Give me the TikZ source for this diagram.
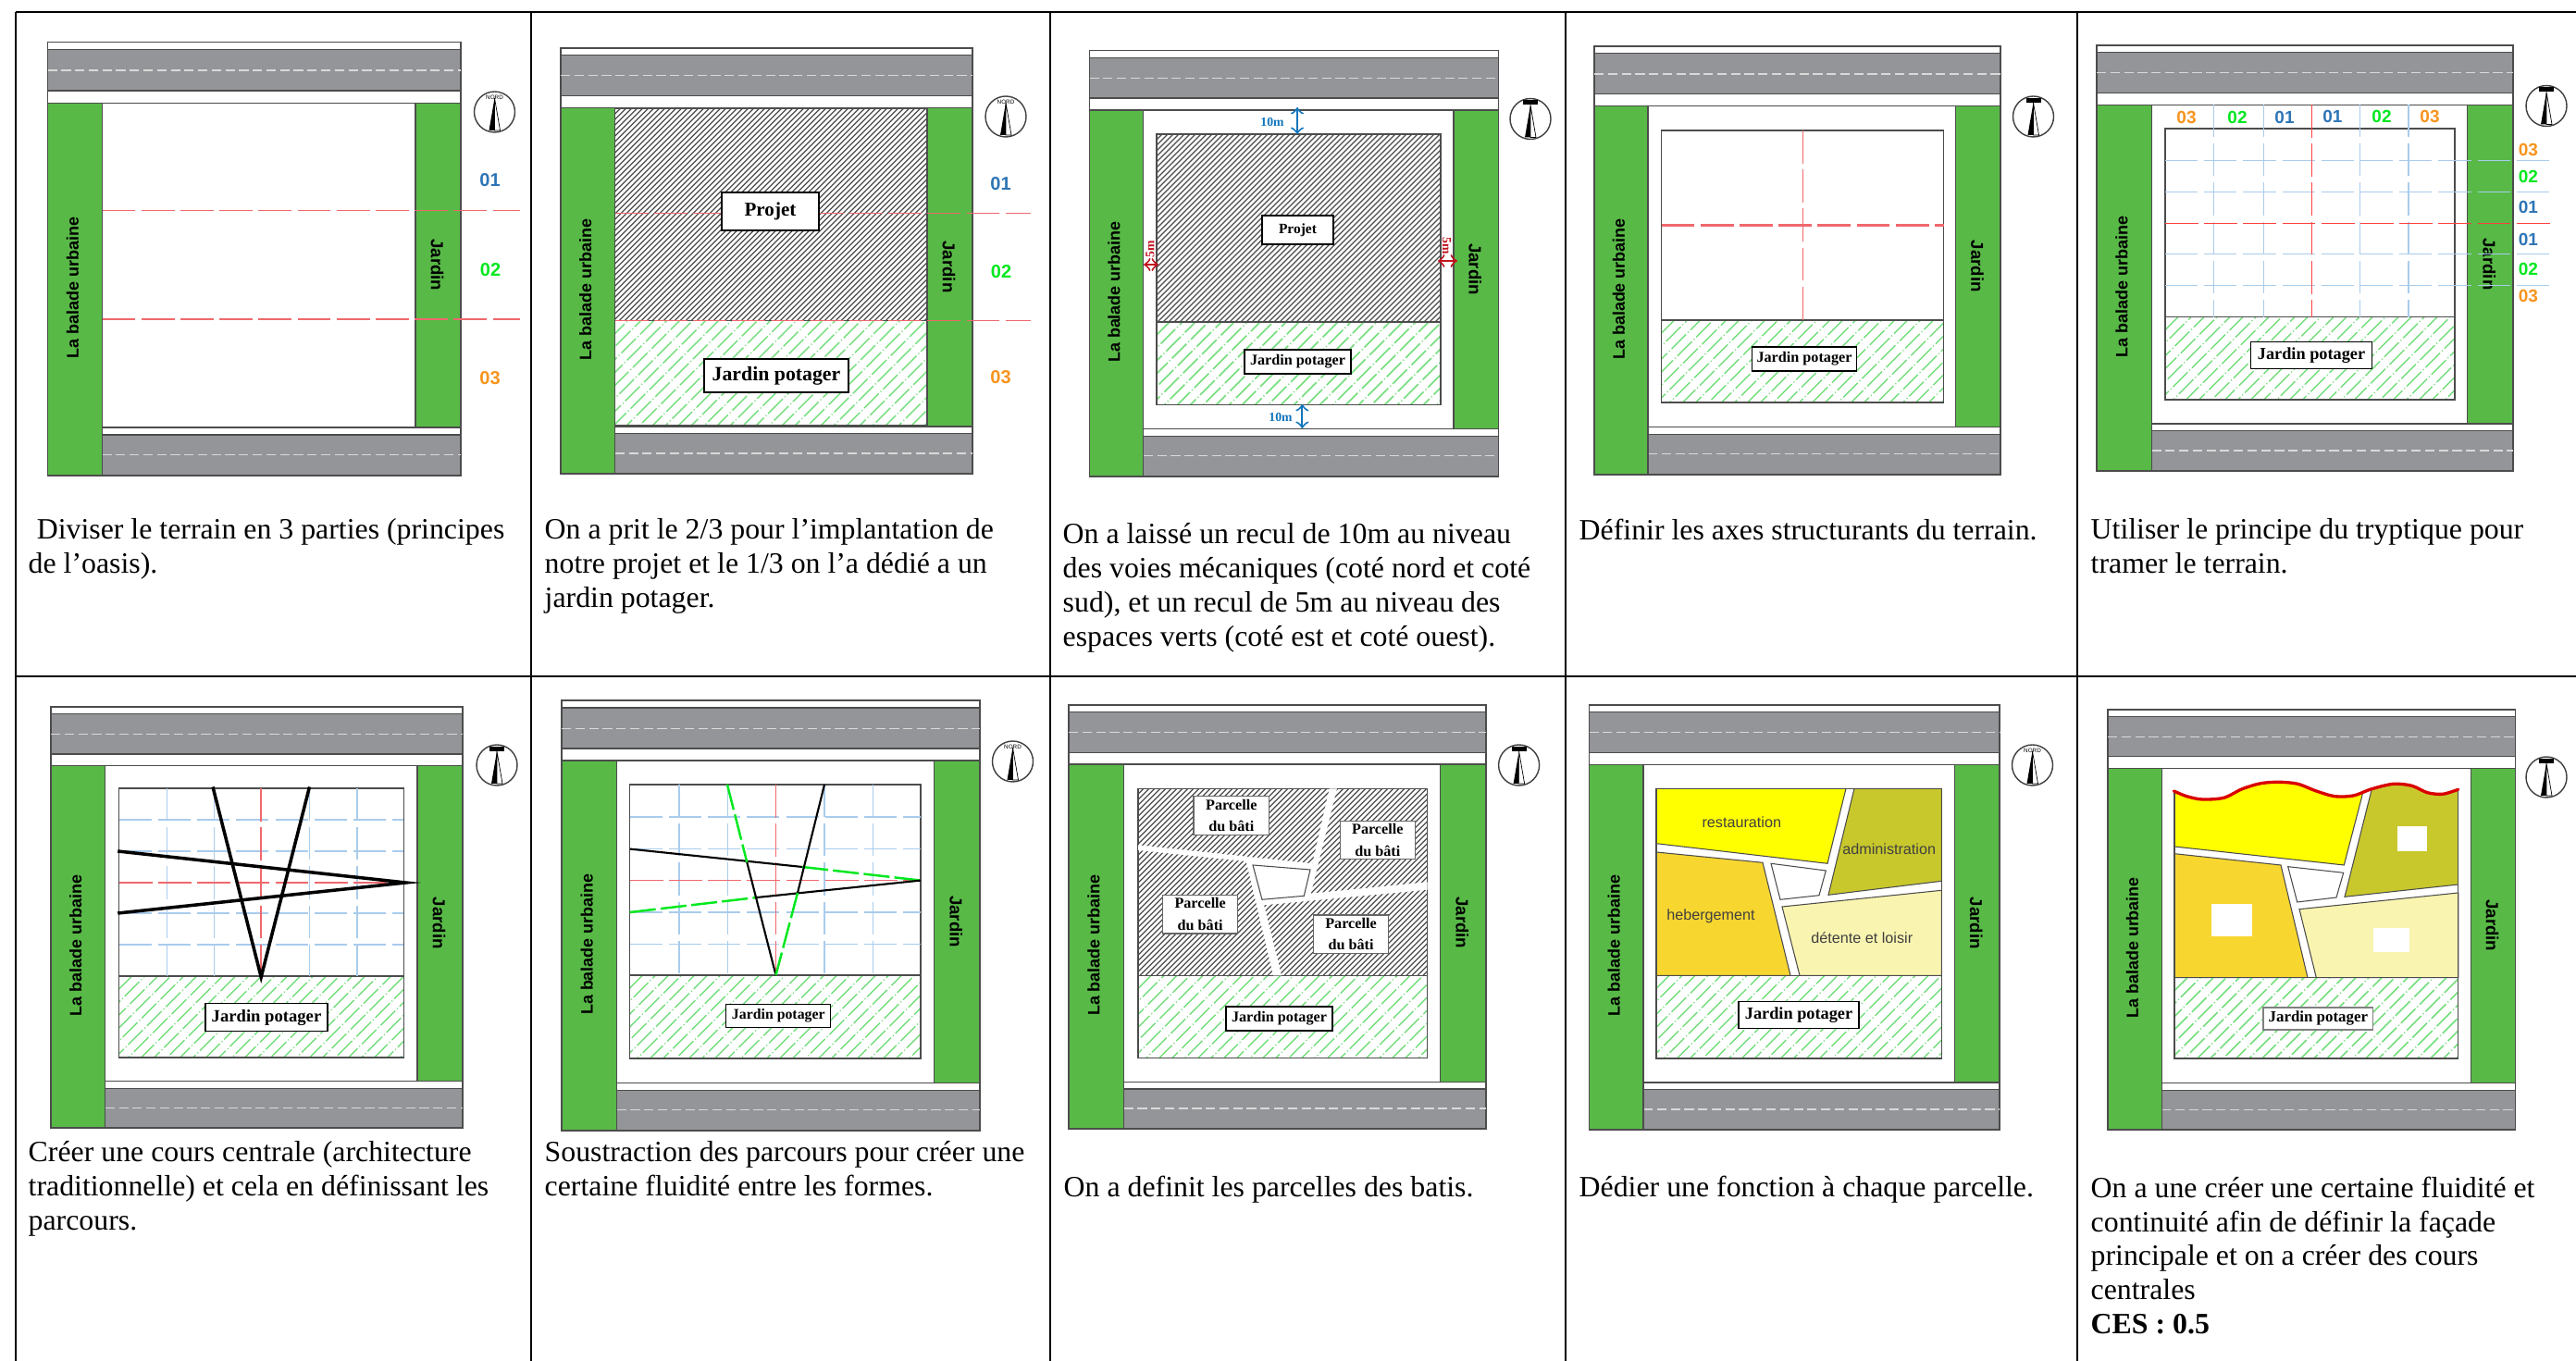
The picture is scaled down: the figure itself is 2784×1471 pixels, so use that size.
\documentclass[tikz,border=0pt]{standalone}
\usepackage{fontspec}
\setmainfont{Liberation Serif}
\newfontfamily\arialfont{Liberation Sans}
\newcommand{\fs}[1]{\fontsize{#1}{#1}\selectfont}
\definecolor{roadgrey}{HTML}{939598}
\definecolor{parkgreen}{HTML}{58B947}
\definecolor{axisred}{HTML}{F0686C}
\definecolor{trameblue}{HTML}{A9CCEC}
\definecolor{hatchgreen}{HTML}{74DE7C}
\definecolor{numblue}{HTML}{2E75B6}
\definecolor{numgreen}{HTML}{00E81F}
\definecolor{numorange}{HTML}{F7941D}
\definecolor{restocolor}{HTML}{FFFF00}
\definecolor{admincolor}{HTML}{C8C82C}
\definecolor{hebercolor}{HTML}{F8D630}
\definecolor{detentecolor}{HTML}{F9F4B0}
\definecolor{recublue}{HTML}{0F75BC}
\definecolor{recured}{HTML}{C1121F}
\tikzset{
  gridline/.style={black,line width=.7pt},
  planline/.style={draw=black!70,line width=.35pt},
  roadmark/.style={white!85!black,line width=.35pt,dash pattern=on 2.9pt off 1.3pt},
  axisline/.style={axisred,line width=.4pt,dash pattern=on 10.2pt off 1.8pt},
  axisbold/.style={axisline,line width=.6pt},
  tramebleu/.style={trameblue,line width=.4pt,dash pattern=on 10pt off 2pt},
  parcours/.style={black,line width=1pt},
  parcoursfin/.style={black,line width=.6pt},
  soustrait/.style={numgreen,line width=.7pt,dash pattern=on 8pt off 1.5pt},
  parcelline/.style={draw=black!70,line width=.3pt},
  baladetext/.style={font=\arialfont\bfseries\fs{5.1},rotate=90,inner sep=0pt},
  jardintext/.style={font=\arialfont\bfseries\fs{5.3},rotate=-90,inner sep=0pt},
  num/.style={font=\arialfont\bfseries\fs{#1},inner sep=0pt},
  namebox/.style={draw=black,fill=white,line width=.35pt,inner sep=0pt,align=center,font=\bfseries\fs{#1}},
  fonction/.style={font=\arialfont\fs{4.6},text=black!75,inner sep=0pt},
  recultext/.style={font=\bfseries\fs{3.9},inner sep=0pt},
  caption/.style={anchor=north west,inner sep=0pt,align=left,font=\fontsize{9.05}{10.5}\selectfont}
}
% road bands, park strips and their names
\newcommand{\planbase}[5]{
  \begin{scope}[shift={(#2,#3)},xscale=#4/100,yscale=#5/100]
    \filldraw[planline,fill=white] (0,0) rectangle (100,14);
    \filldraw[planline,fill=roadgrey] (0,1.7) rectangle (100,11.2);
    \draw[roadmark] (0,6.5) -- (100,6.5);
    \filldraw[planline,fill=white] (13.2,88.9) rectangle (100,90.6);
    \filldraw[planline,fill=roadgrey] (13.2,90.6) rectangle (100,100);
    \draw[roadmark] (13.2,95.2) -- (100,95.2);
    \filldraw[planline,fill=parkgreen] (0,14) rectangle (13.2,100);
    \filldraw[planline,fill=parkgreen] (89,14) rectangle (100,88.9);
    \node[baladetext] (balade#1) at (6,56.7) {La balade urbaine};
    \node[jardintext] (jardin#1) at (94.3,51.4) {Jardin};
  \end{scope}
}
\newcommand{\hatchlines}[6]{
  \begin{scope}
    \clip (#2,#3) rectangle (#4,#5);
    \pgfmathtruncatemacro{\hatchcount}{(#4-#2+#5-#3)/#6}
    \foreach \k in {0,...,\hatchcount} {
      \pgfmathsetmacro{\hatchphase}{mod(\k*3.1,8)}
      \draw[#1,dash phase=\hatchphase pt] ({#2-(#5-#3)+\k*#6},#5) -- ++({#5-#3},{-(#5-#3)});
    }
  \end{scope}
}
\newcommand{\projethatch}[4]{
  \hatchlines{black!70,line width=.36pt}{#1}{#2}{#3}{#4}{6}
  \draw[planline] (#1,#2) rectangle (#3,#4);
}
\newcommand{\potagerhatch}[4]{
  \hatchlines{hatchgreen,line width=.42pt,dash pattern=on 6.3pt off .8pt on .3pt off .8pt}{#1}{#2}{#3}{#4}{14}
  \draw[planline] (#1,#2) rectangle (#3,#4);
}
\newcommand{\compass}[2]{
  \begin{scope}[shift={(#1,#2)}]
    \filldraw[draw=black!75,fill=white,line width=.4pt] (0,0) circle[radius=22];
    \fill[black] (0,-15) -- (-6,20) -- (0,20) -- cycle;
    \filldraw[draw=black,fill=white,line width=.2pt] (0,-15) -- (6,20) -- (0,20) -- cycle;
  \end{scope}
}
\newcommand{\compassbar}[2]{
  \compass{#1}{#2}
  \fill[black] ({#1-8},{#2-20}) rectangle ({#1+8},{#2-15});
}
\newcommand{\compassnord}[3]{
  \compass{#2}{#3}
  \node[font=\arialfont\fs{1.8},inner sep=0pt] (nord#1) at (#2,{#3-16}) {NORD};
}
\begin{document}
\begin{tikzpicture}[x=.01cm,y=-.01cm]
  \useasboundingbox (0,0) rectangle (2784,1471);
  \fill[white] (0,0) rectangle (2784,1471);
  % table
  \draw[gridline] (17,13) -- (2784,13);
  \draw[gridline] (17,731) -- (2784,731);
  \foreach \x in {17,574,1135,1692,2245} {
    \draw[gridline] (\x,13) -- (\x,1471);
  }

  % diviser
  \planbase{a}{51.6}{45.6}{446.4}{468.4}
  \compassnord{a}{534.5}{121}
  \draw[axisline] (110.5,227.6) -- (562,227.6);
  \draw[axisline] (110.5,345) -- (562,345);
  \draw (529.5,194.6) node[num=5.7,numblue] (numaa) {01};
  \draw (530,292) node[num=5.7,numgreen] (numab) {02};
  \draw (529.5,409) node[num=5.7,numorange] (numac) {03};
  \node[caption] (texta) at (30,560) {\hspace*{2.6pt}Diviser le terrain en 3 parties (principes\\de l’oasis).};

  % implantation
  \planbase{b}{606}{52}{445}{460}
  \compassnord{b}{1087}{126}
  \projethatch{664.7}{117}{1001.5}{346.4}
  \potagerhatch{664.7}{346.4}{1001.5}{460}
  \draw[axisline] (664.7,230.5) -- (1114,230.5);
  \draw[axisline] (664.7,346.4) -- (1114,346.4);
  \node[namebox=6,minimum width=1.05cm,minimum height=.41cm] (projetb) at (832.5,228.5) {Projet};
  \node[namebox=6.2,minimum width=1.56cm,minimum height=.36cm] (potagerb) at (839,406) {Jardin potager};
  \draw (1081.5,199) node[num=5.7,numblue] (numba) {01};
  \draw (1082,294) node[num=5.7,numgreen] (numbb) {02};
  \draw (1081.5,408) node[num=5.7,numorange] (numbc) {03};
  \node[caption] (textb) at (588,560) {On a prit le 2/3 pour l’implantation de\\notre projet et le 1/3 on l’a dédié a un\\jardin potager.};

  % recul
  \planbase{c}{1177.5}{54.5}{442}{460.5}
  \compassbar{1654}{128.5}
  \projethatch{1250}{145}{1557}{348}
  \potagerhatch{1250}{348}{1557}{437.6}
  \node[namebox=4.4,minimum width=.77cm,minimum height=.31cm] (projetc) at (1402.5,248.5) {Projet};
  \node[namebox=4.6,minimum width=1.15cm,minimum height=.26cm] (potagerc) at (1402.5,391) {Jardin potager};
  \draw[<->,recublue,line width=.55pt] (1402,116) -- (1402,145);
  \draw[<->,recublue,line width=.55pt] (1407.4,437) -- (1407.4,463);
  \draw[<->,recured,line width=.55pt] (1236,286) -- (1252,286);
  \draw[<->,recured,line width=.55pt] (1554,282) -- (1575,282);
  \node[recultext,recublue] (recultop) at (1375,132) {10m};
  \node[recultext,recublue] (reculbot) at (1384,451) {10m};
  \node[recultext,recured,rotate=90] (reculleft) at (1243,269) {5m};
  \node[recultext,recured,rotate=-90] (reculright) at (1563.5,266) {5m};
  \node[caption] (textc) at (1148,565) {On a laissé un recul de 10m au niveau\\des voies mécaniques (coté nord et coté\\sud), et un recul de 5m au niveau des\\espaces verts (coté est et coté ouest).};

  % axes
  \planbase{d}{1723}{50}{439}{463}
  \compassbar{2197.5}{126}
  \draw[planline] (1795.6,141) rectangle (2100.5,346);
  \potagerhatch{1795.6}{346}{2100.5}{435}
  \draw[axisbold] (1795.6,243.5) -- (2100.5,243.5);
  \draw[axisline] (1948.6,141) -- (1948.6,346);
  \node[namebox=4.6,minimum width=1.13cm,minimum height=.26cm] (potagerd) at (1950,388) {Jardin potager};
  \node[caption] (textd) at (1706,560) {Définir les axes structurants du terrain.};

  % tryptique
  \planbase{e}{2266}{49}{450}{460}
  \compassbar{2752}{114.5}
  \draw[planline] (2340,139) rectangle (2653,342.6);
  \potagerhatch{2340}{342.6}{2653}{432}
  \foreach \x in {2392.4,2446.3,2550.5,2603} {
    \draw[tramebleu] (\x,113) -- (\x,342.6);
  }
  \foreach \y in {173.3,207.3,274.3,308.7} {
    \draw[tramebleu] (2340,\y) -- (2761,\y);
  }
  \draw[axisline,red!75] (2498.4,113) -- (2498.4,342.6);
  \draw[axisline,red!75] (2340,241.3) -- (2761,241.3);
  \node[namebox=5.2,minimum width=1.31cm,minimum height=.295cm] (potagere) at (2498,384) {Jardin potager};
  \draw (2363,126.7) node[num=5.4,numorange] (numea) {03};
  \draw (2418,126.7) node[num=5.4,numgreen] (numeb) {02};
  \draw (2469,126.7) node[num=5.4,numblue] (numec) {01};
  \draw (2520.8,125.7) node[num=5.4,numblue] (numed) {01};
  \draw (2574,125.7) node[num=5.4,numgreen] (numee) {02};
  \draw (2626,125.7) node[num=5.4,numorange] (numef) {03};
  \draw (2732.3,162) node[num=5.4,numorange] (numeg) {03};
  \draw (2732.3,191) node[num=5.4,numgreen] (numeh) {02};
  \draw (2732.3,224) node[num=5.4,numblue] (numei) {01};
  \draw (2732.3,259) node[num=5.4,numblue] (numej) {01};
  \draw (2732.3,291) node[num=5.4,numgreen] (numek) {02};
  \draw (2732.3,320) node[num=5.4,numorange] (numel) {03};
  \node[caption] (texte) at (2259,560) {Utiliser le principe du tryptique pour\\tramer le terrain.};

  % cours centrale
  \planbase{f}{55}{764}{445}{455}
  \compassbar{537}{827}
  \draw[planline] (128.7,852) rectangle (436.4,1055);
  \potagerhatch{128.7}{1055}{436.4}{1143}
  \foreach \x in {180.4,231.3,334.5,386} {
    \draw[tramebleu] (\x,852) -- (\x,1055);
  }
  \foreach \y in {886,920,987,1021} {
    \draw[tramebleu] (128.7,\y) -- (436.4,\y);
  }
  \draw[axisline] (282.2,852) -- (282.2,1055);
  \draw[axisline] (128.7,954) -- (436.4,954);
  \draw[parcours] (230,850.5) -- (282.2,1056) -- (334.5,850.5);
  \draw[parcours] (127.3,920) -- (438.5,954) -- (127.3,987);
  \node[namebox=5.3,minimum width=1.32cm,minimum height=.30cm] (potagerf) at (288,1099.6) {Jardin potager};
  \node[caption] (textf) at (30,1232.5) {Créer une cours centrale (architecture\\traditionnelle) et cela en définissant les\\parcours.};

  % soustraction
  \planbase{g}{607}{757}{452}{465}
  \compassnord{g}{1094.5}{823}
  \draw[planline] (680.7,848) rectangle (995,1054);
  \potagerhatch{680.7}{1054}{995}{1144}
  \foreach \x in {733.8,786.2,891,943.3} {
    \draw[tramebleu] (\x,848) -- (\x,1054);
  }
  \foreach \y in {883,917.6,986,1020.6} {
    \draw[tramebleu] (680.7,\y) -- (995,\y);
  }
  \draw[axisline] (838.5,848) -- (838.5,1054);
  \draw[axisline] (680.7,951.6) -- (995,951.6);
  \draw[parcoursfin] (680.7,917.6) -- (867,937);
  \draw[soustrait] (867,937) -- (995,951.6);
  \draw[soustrait] (680.7,986) -- (818,970);
  \draw[parcoursfin] (818,970) -- (995,951.6);
  \draw[soustrait] (786,848) -- (807.3,932);
  \draw[parcoursfin] (807.3,932) -- (838.5,1054);
  \draw[parcoursfin] (891,848) -- (862,965);
  \draw[soustrait] (862,965) -- (838.5,1054);
  \node[namebox=4.5,minimum width=1.13cm,minimum height=.25cm] (potagerg) at (841.3,1098) {Jardin potager};
  \node[caption] (textg) at (588,1232.5) {Soustraction des parcours pour créer une\\certaine fluidité entre les formes.};

  % parcelles
  \planbase{h}{1155}{762}{451}{458}
  \compassbar{1641.6}{827}
  \projethatch{1230}{852.3}{1542.7}{1054.3}
  \potagerhatch{1230}{1054.3}{1542.7}{1143.5}
  \fill[white] (1230,913.3) -- (1418.3,933.3) -- (1436.7,852.3) -- (1445,852.3) -- (1416.7,965.7) -- (1542.7,953.3) -- (1542.7,961.7) -- (1366,978.3) -- (1385,1054.3) -- (1376,1054.3) -- (1346.7,931) -- (1230,919) -- cycle;
  \draw[parcelline] (1354,935) -- (1416,940) -- (1409.3,968.3) -- (1364,972.3) -- cycle;
  \node[namebox=4.6,minimum width=.815cm,minimum height=.415cm,draw=black!60] (parcellea) at (1330.8,881.5) {Parcelle\\[2.1pt]du bâti};
  \node[namebox=4.6,minimum width=.81cm,minimum height=.41cm,draw=black!60] (parcelleb) at (1488.8,907.8) {Parcelle\\[2.1pt]du bâti};
  \node[namebox=4.6,minimum width=.81cm,minimum height=.417cm,draw=black!60] (parcellec) at (1297.2,988.2) {Parcelle\\[2.1pt]du bâti};
  \node[namebox=4.6,minimum width=.814cm,minimum height=.413cm,draw=black!60] (parcelled) at (1460,1009.7) {Parcelle\\[2.1pt]du bâti};
  \node[namebox=4.6,minimum width=1.15cm,minimum height=.26cm] (potagerh) at (1382.5,1101) {Jardin potager};
  \node[caption] (texth) at (1149,1270) {On a definit les parcelles des batis.};

  % fonctions
  \planbase{i}{1717.5}{762}{443.5}{459}
  \compassnord{i}{2196.5}{827}
  \filldraw[parcelline,fill=restocolor] (1790,852.3) -- (1995,852.3) -- (1975,933.3) -- (1790,911.7) -- cycle;
  \filldraw[parcelline,fill=admincolor] (2004,852.3) -- (2098.3,852.3) -- (2098.3,952.3) -- (1976,967.3) -- cycle;
  \filldraw[parcelline,fill=hebercolor] (1790,921) -- (1905,932.3) -- (1935,1054.3) -- (1790,1054.3) -- cycle;
  \filldraw[parcelline,fill=detentecolor] (1926,980) -- (2098.3,962.3) -- (2098.3,1054.3) -- (1945,1054.3) -- cycle;
  \draw[parcelline] (1914,933.3) -- (1973.3,941) -- (1966,967.7) -- (1924,972.3) -- cycle;
  \draw[planline] (1790,852.3) rectangle (2098.3,1054.3);
  \potagerhatch{1790}{1054.3}{2098.3}{1144}
  \node[fonction] (restauration) at (1882.3,888.3) {restauration};
  \node[fonction] (administration) at (2041.7,917.3) {administration};
  \node[fonction] (hebergement) at (1849,990.7) {hebergement};
  \node[fonction] (detente) at (2012.3,1013.3) {détente et loisir};
  \node[namebox=5.2,minimum width=1.30cm,minimum height=.29cm] (potageri) at (1944,1097) {Jardin potager};
  \node[caption] (texti) at (1706,1270) {Dédier une fonction à chaque parcelle.};

  % facade
  \planbase{j}{2278}{767}{440.6}{454}
  \compassbar{2752}{840}
  \fill[restocolor] (2350,856.7) -- (2363.3,860.7) -- (2380,864) -- (2403.3,862.3) -- (2423.3,852.7) -- (2443.3,846.7) -- (2463.3,845.3) -- (2483.3,847.3) -- (2503.3,855) -- (2523.3,860.7) -- (2543.3,860) -- (2553.3,858.3) -- (2533.3,935) -- (2350,915) -- cycle;
  \fill[admincolor] (2563.3,852.7) -- (2586.7,847.3) -- (2606.7,849.3) -- (2623.3,856.7) -- (2640,858.3) -- (2656.7,853.3) -- (2656.7,956) -- (2534,969.3) -- cycle;
  \filldraw[parcelline,fill=hebercolor] (2350,922.7) -- (2465,935) -- (2494,1056.7) -- (2350,1056.7) -- cycle;
  \filldraw[parcelline,fill=detentecolor] (2485,982.7) -- (2656.7,965) -- (2656.7,1056.7) -- (2503.3,1056.7) -- cycle;
  \draw[parcelline] (2472.7,936.7) -- (2532.7,943.3) -- (2525,970) -- (2482.7,975) -- cycle;
  \draw[parcelline] (2553.3,858.3) -- (2533.3,935) -- (2350,915);
  \draw[parcelline] (2563.3,852.7) -- (2534,969.3) -- (2656.7,956);
  \draw[parcelline] (2350,856.7) -- (2350,1056.7) -- (2656.7,1056.7) -- (2656.7,853.3);
  \fill[white] (2591,893) rectangle (2623,920);
  \fill[white] (2390,977) rectangle (2434,1011.7);
  \fill[white] (2565,1003) rectangle (2604,1029);
  \draw[red!85!black,line width=.95pt,line cap=round] plot[smooth] coordinates {(2349.3,855) (2363.3,860.7) (2380,864) (2403.3,862.3) (2423.3,852.7) (2443.3,846.7) (2463.3,845.3) (2483.3,847.3) (2503.3,855) (2523.3,860.7) (2543.3,860) (2563.3,852.7) (2586.7,847.3) (2606.7,849.3) (2623.3,856.7) (2640,858.3) (2656.7,853.3)};
  \potagerhatch{2350}{1056.7}{2656.7}{1144}
  \node[namebox=4.8,minimum width=1.186cm,minimum height=.24cm,draw=black!50] (potagerj) at (2505.3,1101) {Jardin potager};
  \node[caption] (textj) at (2259,1271) {On a une créer une certaine fluidité et\\continuité afin de définir la façade\\principale et on a créer des cours\\centrales\\\textbf{CES : 0.5}};
\end{tikzpicture}
\end{document}
